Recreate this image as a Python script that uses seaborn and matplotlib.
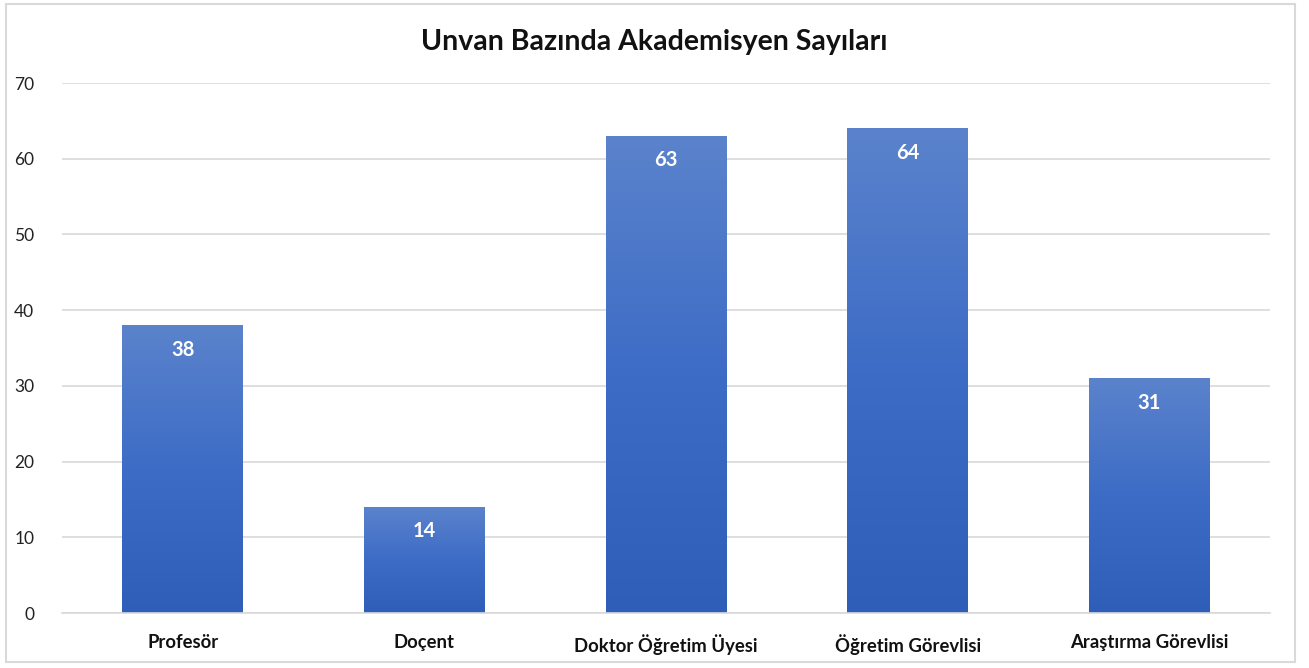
import matplotlib
matplotlib.use("Agg")
import matplotlib.pyplot as plt
import seaborn as sns
import numpy as np
import pandas as pd
from matplotlib.colors import LinearSegmentedColormap
from matplotlib.patches import Rectangle

categories = ["Profesör", "Doçent", "Doktor Öğretim Üyesi", "Öğretim Görevlisi", "Araştırma Görevlisi"]
values = [38, 14, 63, 64, 31]
title = "Unvan Bazında Akademisyen Sayıları"

sns.set_theme(style="white")
plt.rcParams['font.family'] = ['Lato', 'DejaVu Sans']

df = pd.DataFrame({"Unvan": categories, "Sayı": values})

fig = plt.figure(figsize=(13.09, 6.68), dpi=100)
ax = fig.add_axes([62/1309, 1-613/668, (1270-62)/1309, (613-83)/668])

sns.barplot(data=df, x="Unvan", y="Sayı", color="#4472C4", width=0.5, ax=ax, zorder=2)

ax.set_ylim(0, 70)
ax.set_xlim(-0.5, len(categories)-0.5)
ax.set_yticks(range(0, 71, 10))
ax.yaxis.grid(True, color="#D9D9D9", linewidth=1.2, zorder=0)
ax.set_axisbelow(True)
for s in ["top", "right", "left"]:
    ax.spines[s].set_visible(False)
ax.spines["bottom"].set_color("#D9D9D9")
ax.spines["bottom"].set_linewidth(1.2)
ax.set_xlabel("")
ax.set_ylabel("")
ax.tick_params(axis="y", length=0, pad=20, labelsize=12.5, labelcolor="#222222")
ax.tick_params(axis="x", length=0, pad=15, labelsize=13.3)
for lbl in ax.get_xticklabels():
    lbl.set_fontweight("bold")
    lbl.set_color("#111111")

# gradient fill
cmap = LinearSegmentedColormap.from_list("g", ["#2E5EB8", "#3D6CC6", "#5B83CC"])
grad = np.linspace(0, 1, 256).reshape(-1, 1)
for bar in ax.patches:
    x0, y0 = bar.get_x(), bar.get_y()
    w, h = bar.get_width(), bar.get_height()
    bar.set_facecolor("none")
    bar.set_edgecolor("none")
    im = ax.imshow(grad, cmap=cmap, origin="lower", aspect="auto",
                   extent=[x0, x0 + w, y0, y0 + h], zorder=2)
    im.set_clip_path(bar)
    ax.text(x0 + w/2, h - 3.2, f"{int(h)}", ha="center", va="center",
            color="white", fontsize=14.5, fontweight="bold", zorder=3)

ax.set_xlim(-0.5, len(categories)-0.5)
ax.set_ylim(0, 70)

fig.text(0.5, 1-42/668, title, ha="center", va="center", fontsize=20.5, fontweight="bold", color="#111111")

fig.patches.append(Rectangle((6/1309, 1-662/668), (1295-6)/1309, (662-4)/668,
                             transform=fig.transFigure, fill=False, edgecolor="#D9D9D9", linewidth=1.5))

fig.savefig("out.png", dpi=100, facecolor="white")
